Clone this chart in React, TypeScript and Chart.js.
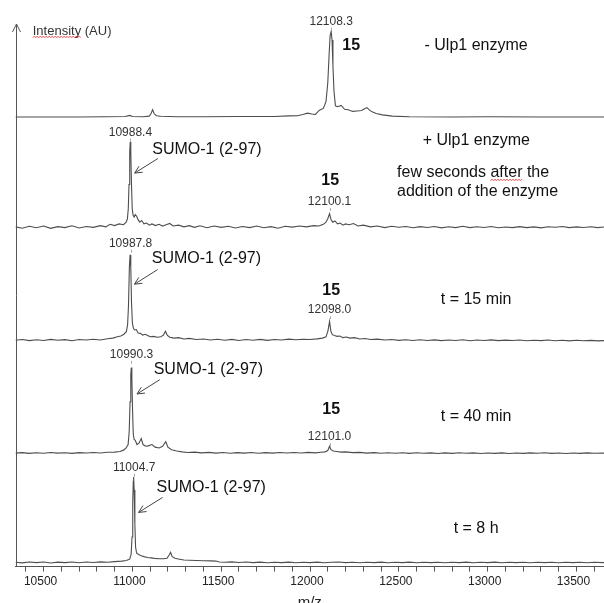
import React, { useEffect, useRef } from "react";
import { Chart, registerables } from "chart.js";

Chart.register(...registerables);

// ---- axis range (m/z) ----
const mzMin = 10342;
const mzMax = 13655;
const mzMinorStep = 100;
const mzTickLabels = [10500, 11000, 11500, 12000, 12500, 13000, 13500];

// vertical offset of each stacked spectrum (intensity units, 100 = main peak)
const panelOffsets = [521, 392, 260, 128, 0];
const yMin = -4.65;
const yMax = 629.7;

// ---- spectra: [m/z, relative intensity] ----
const spectrumNoEnzyme: [number, number][] = [
  [10342, 0], [10500, 0], [10700, 0], [10850, 0.3], [10960, 0.5], [10985, 1.8], [11000, 0.5],
  [11060, 0.3], [11095, 1], [11105, 4], [11114, 8.5], [11122, 4], [11135, 1.5], [11160, 0.8],
  [11250, 0.3], [11400, 0.3], [11600, 0.5], [11800, 0.5], [11880, 1.3], [11930, 1.5], [11960, 3],
  [11986, 4.5], [12010, 3.5], [12030, 3], [12053, 8], [12075, 10], [12090, 18], [12100, 40],
  [12108, 75], [12113, 95], [12119, 100], [12124, 90], [12129, 60], [12135, 30], [12143, 13],
  [12155, 12], [12175, 13.5], [12195, 9], [12215, 8.5], [12240, 6.5], [12265, 7], [12290, 7.5],
  [12310, 10], [12320, 11], [12335, 8], [12350, 6], [12372, 4], [12408, 2.5], [12464, 1],
  [12560, 0.3], [12800, 0], [13000, 0.2], [13300, 0], [13655, 0],
];

const spectrumSeconds: [number, number][] = [
  [10342, 0.5], [10380, -1], [10420, 1.2], [10460, -0.5], [10500, 1.5], [10540, -1.2], [10580, 0.8],
  [10620, -0.3], [10660, 1.8], [10700, -0.8], [10740, 1], [10780, 0], [10820, 2], [10850, 0.5],
  [10875, 3.5], [10900, 2], [10925, 4], [10950, 3], [10965, 6], [10972, 10], [10977, 22],
  [10981, 50], [10985, 88], [10988, 100], [10991, 88], [10995, 50], [10999, 22], [11004, 14],
  [11010, 12], [11016, 15], [11024, 13], [11032, 9], [11042, 6], [11052, 8], [11065, 4],
  [11080, 5], [11095, 2.5], [11110, 4], [11130, 2], [11150, 3.5], [11170, 1.5], [11190, 3],
  [11210, 4.5], [11230, 1.5], [11260, 2.5], [11290, 0.5], [11320, 2], [11350, 0], [11380, 1.8],
  [11420, -0.5], [11460, 1.5], [11500, 0], [11540, 1.2], [11580, -0.8], [11620, 1], [11660, -0.3],
  [11700, 1.5], [11740, -0.5], [11780, 0.8], [11820, -1], [11860, 1.2], [11900, 0.2], [11940, 1.5],
  [11980, 0.5], [12020, 2], [12050, 1.5], [12075, 3.5], [12090, 6], [12100, 10], [12110, 16],
  [12118, 9], [12128, 6], [12140, 7.5], [12155, 4], [12170, 5], [12185, 2.5], [12200, 4],
  [12220, 3], [12245, 4.5], [12270, 1.5], [12300, 2.5], [12340, 0.5], [12380, 1.5], [12420, -0.3],
  [12460, 1.2], [12500, 0], [12540, 1], [12580, -0.5], [12620, 0.8], [12660, -0.2], [12700, 1],
  [12740, -0.6], [12780, 0.6], [12820, -0.3], [12860, 1.3], [12900, -0.4], [12940, 0.7],
  [12980, -0.2], [13020, 0.9], [13060, -0.5], [13100, 0.4], [13140, -0.3], [13180, 0.8],
  [13220, -0.4], [13260, 0.5], [13300, -0.6], [13340, 0.6], [13380, 0], [13420, 0.9],
  [13460, -0.4], [13500, 0.5], [13540, -0.2], [13580, 0.6], [13620, -0.3], [13655, 0.3],
];

const spectrum15min: [number, number][] = [
  [10342, 0], [10380, 0.8], [10420, -0.5], [10460, 0.6], [10500, -0.3], [10540, 1], [10580, 0],
  [10620, 0.7], [10660, -0.6], [10700, 0.9], [10740, 0.2], [10780, 1.2], [10820, 0.3], [10860, 1.8],
  [10890, 2.5], [10915, 4], [10935, 5], [10952, 7], [10966, 10], [10973, 18], [10978, 40],
  [10983, 85], [10987, 100], [10991, 85], [10995, 45], [11000, 20], [11006, 14], [11012, 12],
  [11022, 12.5], [11032, 8.5], [11045, 8], [11058, 6], [11072, 7], [11086, 5.5], [11100, 4],
  [11120, 4.5], [11140, 3.5], [11160, 4], [11175, 6], [11186, 10.5], [11196, 6], [11210, 3.5],
  [11235, 2.5], [11260, 3], [11290, 1.5], [11320, 2.2], [11360, 0.8], [11400, 1.5], [11440, 0.2],
  [11480, 1.2], [11520, 0], [11560, 1], [11600, -0.3], [11640, 0.8], [11680, 0], [11720, 1],
  [11760, -0.2], [11800, 0.9], [11840, 0.2], [11880, 1.3], [11920, 0.5], [11960, 1.2], [12000, 0.8],
  [12040, 1.6], [12070, 2.5], [12090, 4], [12101, 11], [12110, 22], [12117, 11], [12125, 6.5],
  [12138, 5.5], [12152, 4.5], [12168, 5], [12185, 3], [12205, 3.8], [12225, 2.5], [12250, 3],
  [12280, 1.5], [12310, 2], [12340, 0.8], [12380, 1.3], [12420, 0.2], [12460, 0.9], [12500, -0.2],
  [12540, 0.6], [12580, -0.4], [12620, 0.5], [12660, -0.3], [12700, 0.4], [12740, -0.5],
  [12780, 0.3], [12820, -0.4], [12860, 0.5], [12900, -0.6], [12940, 0.2], [12980, -0.4],
  [13020, 0.4], [13060, -0.5], [13100, 0.1], [13140, -0.4], [13180, 0.3], [13220, -0.6],
  [13260, 0], [13300, -0.5], [13340, 0.2], [13380, -0.6], [13420, 0], [13460, -0.7],
  [13500, -0.1], [13540, -0.6], [13580, -0.2], [13620, -0.8], [13655, -0.5],
];

const spectrum40min: [number, number][] = [
  [10342, 0], [10380, 0.6], [10420, -0.3], [10460, 0.5], [10500, -0.2], [10540, 0.7], [10580, 0],
  [10620, 0.5], [10660, -0.3], [10700, 0.6], [10740, 0.1], [10780, 0.8], [10820, 0.2], [10860, 1],
  [10900, 1.2], [10930, 2], [10950, 3.5], [10965, 6], [10976, 10], [10982, 25], [10987, 60],
  [10991, 92], [10994, 100], [10997, 88], [11001, 50], [11005, 22], [11010, 16], [11016, 15],
  [11026, 10], [11038, 12], [11050, 17], [11060, 10], [11075, 8], [11090, 8.5], [11110, 10],
  [11128, 7], [11150, 6], [11170, 8], [11188, 13.5], [11200, 7], [11220, 4], [11250, 2.5],
  [11280, 1.5], [11310, 0.8], [11350, 1.2], [11390, 0.3], [11430, 0.9], [11470, 0], [11510, 0.7],
  [11550, -0.2], [11590, 0.6], [11630, 0], [11670, 0.7], [11710, -0.1], [11750, 0.6], [11790, 0],
  [11830, 0.8], [11870, 0.1], [11910, 0.7], [11950, 0.2], [11990, 0.9], [12030, 0.3], [12060, 1],
  [12085, 1.5], [12100, 3], [12110, 8], [12118, 4], [12130, 2.5], [12150, 2], [12175, 1.2],
  [12200, 1.5], [12240, 0.6], [12280, 0.9], [12320, 0], [12360, 0.6], [12400, -0.2], [12440, 0.5],
  [12480, -0.1], [12520, 0.4], [12560, -0.3], [12600, 0.4], [12640, -0.2], [12680, 0.3],
  [12720, -0.4], [12760, 0.3], [12800, -0.3], [12840, 0.4], [12880, -0.2], [12920, 0.3],
  [12960, -0.4], [13000, 0.2], [13040, -0.3], [13080, 0.3], [13120, -0.4], [13160, 0.2],
  [13200, -0.3], [13240, 0.3], [13280, -0.2], [13320, 0.4], [13360, -0.3], [13400, 0.2],
  [13440, -0.4], [13480, 0.2], [13520, -0.3], [13560, 0.3], [13600, -0.2], [13655, 0],
];

const spectrum8h: [number, number][] = [
  [10342, 0.5], [10380, -0.3], [10420, 0.8], [10460, 0], [10500, 0.7], [10540, -0.4], [10580, 0.6],
  [10620, 0], [10660, 0.8], [10700, -0.2], [10740, 0.7], [10780, 0.1], [10820, 0.9], [10860, 0.4],
  [10900, 1.2], [10940, 1.8], [10965, 2.5], [10985, 4], [10993, 10], [10998, 30], [11002, 70],
  [11005, 95], [11007, 100], [11010, 85], [11014, 45], [11018, 18], [11024, 11], [11035, 9.5],
  [11050, 8], [11065, 7], [11085, 6], [11105, 5.5], [11125, 5], [11150, 4.5], [11175, 4.5],
  [11195, 5], [11207, 9], [11215, 12], [11224, 7], [11240, 5], [11265, 4], [11290, 3],
  [11320, 2.8], [11360, 2.5], [11400, 2.2], [11440, 2], [11470, 1.8], [11490, 0.8], [11520, 0.5],
  [11560, 0.9], [11600, 0.2], [11640, 0.7], [11680, 0], [11720, 0.6], [11760, -0.2], [11800, 0.5],
  [11840, 0], [11880, 0.6], [11920, -0.1], [11960, 0.5], [12000, 0], [12040, 0.6], [12080, -0.1],
  [12120, 0.5], [12160, 0.8], [12200, 0], [12240, 0.5], [12280, -0.2], [12320, 0.4], [12360, 0],
  [12400, 0.6], [12440, -0.1], [12480, 0.5], [12520, 0], [12560, 0.6], [12600, -0.1], [12640, 0.4],
  [12680, 0], [12720, 0.5], [12760, -0.2], [12800, 0.4], [12840, 0], [12880, 0.6], [12920, -0.1],
  [12960, 0.5], [13000, 0], [13040, 0.6], [13080, -0.2], [13120, 0.4], [13160, 0], [13200, 0.5],
  [13240, -0.2], [13280, 0.4], [13320, 0], [13360, 0.5], [13400, -0.2], [13440, 0.4], [13480, 0],
  [13520, 0.5], [13560, -0.1], [13600, 0.4], [13655, 0],
];

const spectra = [spectrumNoEnzyme, spectrumSeconds, spectrum15min, spectrum40min, spectrum8h];

// ---- annotations: [panel, m/z, height above panel baseline, text] ----
const peakLabels: [number, number, number, string][] = [
  [0, 12119, 111.4, "12108.3"],
  [1, 10989, 110.7, "10988.4"],
  [1, 12110, 29.7, "12100.1"],
  [2, 10990, 112.8, "10987.8"],
  [2, 12110, 35.2, "12098.0"],
  [3, 10995, 114.9, "10990.3"],
  [3, 12110, 18.8, "12101.0"],
  [4, 11010, 111, "11004.7"],
];

const compoundLabels: [number, number, number, string][] = [
  [0, 12232, 83.1, "15"],
  [1, 12114, 54.4, "15"],
  [2, 12119, 58.5, "15"],
  [3, 12119, 50.9, "15"],
];

const conditionLabels: [number, number, number, string][] = [
  [0, 12935, 83.1, "- Ulp1 enzyme"],
  [1, 12936, 101, "+ Ulp1 enzyme"],
  [2, 12935, 47.7, "t = 15 min"],
  [3, 12935, 42.4, "t = 40 min"],
  [4, 12935, 39.3, "t = 8 h"],
];

const noteLines: [number, number, number, string][] = [
  [1, 12490, 64.2, "few seconds after the"],
  [1, 12490, 41.6, "addition of the enzyme"],
];

const sumoLabels: [number, number, number, string][] = [
  [1, 11112, 90.5, "SUMO-1 (2-97)"],
  [2, 11109, 95.3, "SUMO-1 (2-97)"],
  [3, 11120, 97.4, "SUMO-1 (2-97)"],
  [4, 11136, 87.8, "SUMO-1 (2-97)"],
];

// [panel, from m/z, from height, to m/z, to height]
const sumoArrows: [number, number, number, number, number][] = [
  [1, 11144, 80.5, 11013, 63.4],
  [2, 11142, 82.6, 11012, 65.5],
  [3, 11154, 85.8, 11026, 69.2],
  [4, 11170, 76.2, 11035, 58.7],
];

const yAxisLabel: [number, number, number, string] = [0, 10439, 100, "Intensity (AU)"];
const xAxisTitle = "m/z";

const FONT = "'Liberation Sans', Arial, sans-serif";

function squiggle(ctx: CanvasRenderingContext2D, x0: number, x1: number, y: number) {
  ctx.save();
  ctx.strokeStyle = "#e02020";
  ctx.lineWidth = 0.8;
  ctx.beginPath();
  let up = true;
  ctx.moveTo(x0, y);
  for (let x = x0 + 1.5; x <= x1; x += 1.5) {
    ctx.lineTo(x, up ? y - 1 : y);
    up = !up;
  }
  ctx.stroke();
  ctx.restore();
}

const annotationPlugin = {
  id: "spectrumAnnotations",
  afterDraw(chart: any) {
    const { ctx, chartArea, scales } = chart;
    const xs = scales.x;
    const ys = scales.y;
    const px = (mz: number) => xs.getPixelForValue(mz);
    const py = (panel: number, h: number) => ys.getPixelForValue(panelOffsets[panel] + h);
    ctx.save();

    // vertical intensity axis with arrow head
    ctx.strokeStyle = "#555";
    ctx.lineWidth = 1;
    const ax = Math.round(chartArea.left) + 0.5;
    ctx.beginPath();
    ctx.moveTo(ax, chartArea.bottom);
    ctx.lineTo(ax, chartArea.top);
    ctx.stroke();
    ctx.beginPath();
    ctx.moveTo(ax - 4, chartArea.top + 8);
    ctx.lineTo(ax, chartArea.top);
    ctx.lineTo(ax + 4, chartArea.top + 8);
    ctx.stroke();

    ctx.textBaseline = "middle";

    // y axis label
    ctx.fillStyle = "#333";
    ctx.font = `13px ${FONT}`;
    ctx.textAlign = "left";
    const lx = px(yAxisLabel[1]);
    const ly = py(yAxisLabel[0], yAxisLabel[2]);
    ctx.fillText(yAxisLabel[3], lx, ly);
    squiggle(ctx, lx, lx + ctx.measureText("Intensity").width, ly + 6);

    // peak mass labels
    ctx.font = `12px ${FONT}`;
    ctx.textAlign = "center";
    for (const [p, mz, h, t] of peakLabels) {
      const x = px(mz);
      const y = py(p, h);
      ctx.fillStyle = "#333";
      ctx.fillText(t, x, y);
      ctx.strokeStyle = "#aaa";
      ctx.beginPath();
      ctx.moveTo(Math.round(x) + 0.5, y + 6);
      ctx.lineTo(Math.round(x) + 0.5, y + 9);
      ctx.stroke();
    }

    // compound number
    ctx.fillStyle = "#111";
    ctx.font = `bold 16px ${FONT}`;
    for (const [p, mz, h, t] of compoundLabels) ctx.fillText(t, px(mz), py(p, h));

    // conditions
    ctx.font = `16px ${FONT}`;
    for (const [p, mz, h, t] of conditionLabels) ctx.fillText(t, px(mz), py(p, h));

    ctx.textAlign = "left";
    for (const [p, mz, h, t] of noteLines) {
      const x = px(mz);
      const y = py(p, h);
      ctx.fillText(t, x, y);
      const k = t.indexOf("after");
      if (k >= 0) {
        const s = x + ctx.measureText(t.slice(0, k)).width;
        squiggle(ctx, s, s + ctx.measureText("after").width, y + 8);
      }
    }
    for (const [p, mz, h, t] of sumoLabels) ctx.fillText(t, px(mz), py(p, h));

    // arrows
    ctx.strokeStyle = "#444";
    ctx.lineWidth = 1;
    for (const [p, m1, h1, m2, h2] of sumoArrows) {
      const x1 = px(m1), y1 = py(p, h1), x2 = px(m2), y2 = py(p, h2);
      ctx.beginPath();
      ctx.moveTo(x1, y1);
      ctx.lineTo(x2, y2);
      ctx.stroke();
      const ang = Math.atan2(y2 - y1, x2 - x1);
      const L = 8;
      ctx.beginPath();
      ctx.moveTo(x2 - L * Math.cos(ang - 0.45), y2 - L * Math.sin(ang - 0.45));
      ctx.lineTo(x2, y2);
      ctx.lineTo(x2 - L * Math.cos(ang + 0.45), y2 - L * Math.sin(ang + 0.45));
      ctx.stroke();
    }
    ctx.restore();
  },
};

export default function App() {
  const ref = useRef<HTMLCanvasElement>(null);

  useEffect(() => {
    if (!ref.current) return;
    const chart = new Chart(ref.current, {
      type: "line",
      data: {
        datasets: spectra.map((pts, i) => ({
          data: pts.map(([mz, v]) => ({ x: mz, y: v + panelOffsets[i] })),
          borderColor: "#4d4d4d",
          borderWidth: 1.1,
          pointRadius: 0,
          tension: 0,
          fill: false,
        })),
      },
      options: {
        animation: false,
        responsive: false,
        layout: { padding: { left: 15.5, top: 24, right: 0, bottom: 0 } },
        plugins: { legend: { display: false }, tooltip: { enabled: false } },
        scales: {
          x: {
            type: "linear",
            position: "bottom",
            min: mzMin,
            max: mzMax,
            afterBuildTicks: (scale: any) => {
              const first = Math.ceil(mzMin / mzMinorStep) * mzMinorStep;
              const ticks = [];
              for (let v = first; v <= mzMax; v += mzMinorStep) ticks.push({ value: v });
              scale.ticks = ticks;
            },
            ticks: {
              autoSkip: false,
              maxRotation: 0,
              padding: 3,
              labelOffset: -3,
              color: "#222",
              font: { family: FONT, size: 12 },
              callback: (v: any) => (mzTickLabels.includes(Number(v)) ? String(v) : ""),
            },
            grid: {
              drawOnChartArea: false,
              drawTicks: true,
              tickLength: 5,
              color: "#555",
              lineWidth: 1,
            },
            border: { display: true, color: "#555", width: 1 },
            title: {
              display: true,
              text: xAxisTitle,
              color: "#222",
              font: { family: FONT, size: 15 },
              padding: { top: 2, bottom: 0 },
            },
          },
          y: {
            type: "linear",
            display: false,
            min: yMin,
            max: yMax,
          },
        },
      },
      plugins: [annotationPlugin],
    });
    return () => chart.destroy();
  }, []);

  return (
    <div
      style={{
        position: "fixed",
        left: 0,
        top: 0,
        width: 604,
        height: 603,
        overflow: "hidden",
        background: "#fff",
      }}
    >
      <canvas ref={ref} width={604} height={612} style={{ display: "block", width: 604, height: 612 }} />
    </div>
  );
}
